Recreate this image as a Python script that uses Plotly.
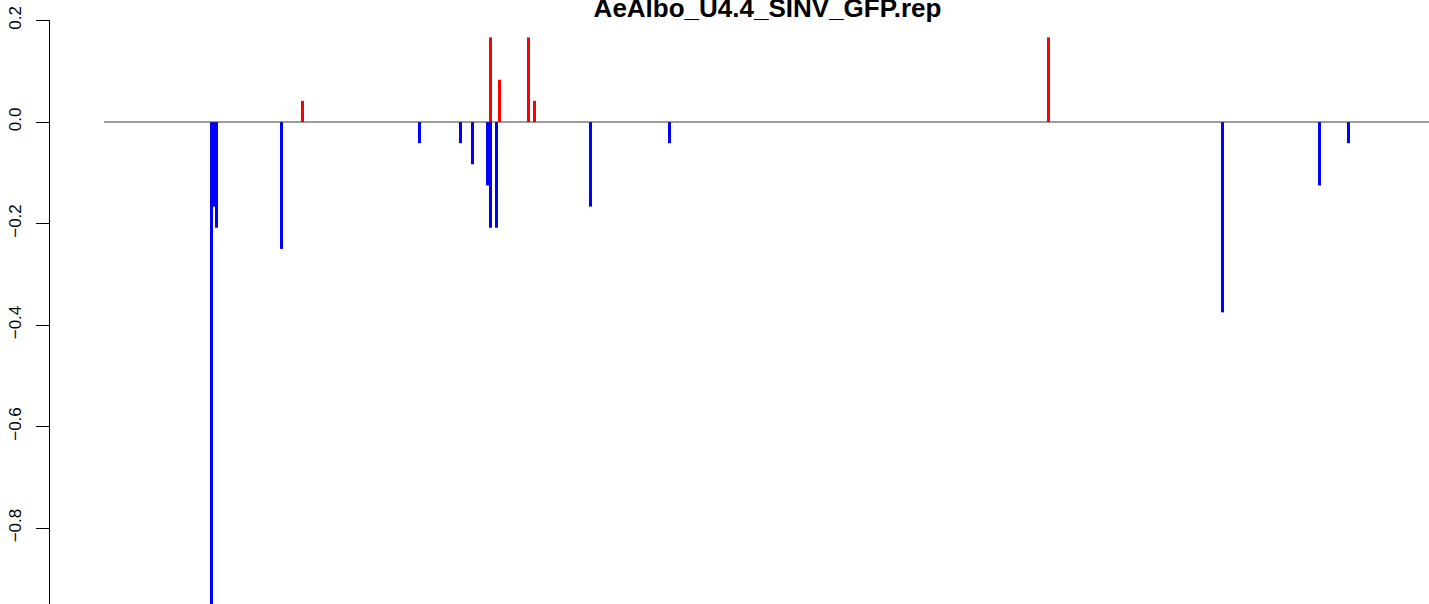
import plotly.graph_objects as go

# ---- data (positions along the sequence, values in fractions) ----
title_text = "AeAlbo_U4.4_SINV_GFP.rep"

neg_pos = [161.5, 164, 166.5, 231.5, 369.5, 410.5, 422.5, 437.5, 440.5, 446.5,
           540.5, 619.5, 1172.5, 1269.5, 1298.5]
neg_val = [-1.0, -0.1667, -0.2083, -0.25, -0.0417, -0.0417, -0.0833, -0.125, -0.2083, -0.2083,
           -0.1667, -0.0417, -0.375, -0.125, -0.0417]

pos_pos = [252.5, 440.5, 449.5, 478.5, 484.5, 998.5]
pos_val = [0.0417, 0.1667, 0.0833, 0.1667, 0.0417, 0.1667]

seq_start = 54
seq_end = 1420

y_ticks = [0.2, 0.0, -0.2, -0.4, -0.6, -0.8, -1.0]
y_tick_labels = ["0.2", "0.0", "\u22120.2", "\u22120.4", "\u22120.6", "\u22120.8", "\u22121.0"]

fig = go.Figure()

# zero reference line
fig.add_trace(go.Scatter(
    x=[seq_start, seq_end], y=[0, 0], mode="lines",
    line=dict(color="#3a3a3a", width=1), hoverinfo="skip", showlegend=False))

fig.add_trace(go.Bar(
    x=neg_pos, y=neg_val, width=3, marker=dict(color="#0000FF", line=dict(width=0)),
    showlegend=False))
fig.add_trace(go.Bar(
    x=pos_pos, y=pos_val, width=3, marker=dict(color="#FF0000", line=dict(width=0)),
    showlegend=False))

fig.update_layout(
    width=1429, height=604,
    template="none",
    paper_bgcolor="white", plot_bgcolor="white",
    barmode="overlay",
    margin=dict(l=50, r=0, t=20, b=0, autoexpand=False),
    title=dict(text="<b>" + title_text + "</b>", x=767.5 / 1429, xref="container", xanchor="center",
               y=1 - 7.5 / 604, yref="container", yanchor="middle",
               font=dict(family="Liberation Sans, Arial, sans-serif", size=26, color="black")),
    xaxis=dict(range=[0, 1379], visible=False, showgrid=False, zeroline=False),
    yaxis=dict(range=[0.2 - 584 / 508, 0.2 + 0.5 / 508], showgrid=False, zeroline=False,
               showline=True, linecolor="black", linewidth=1,
               ticks="outside", ticklen=13, tickwidth=1, tickcolor="black",
               tickvals=y_ticks, ticktext=y_tick_labels, tickangle=-90,
               ticklabelstandoff=8,
               tickfont=dict(family="Liberation Sans, Arial, sans-serif", size=17, color="black")),
)

fig.write_html("out.html", config={"displayModeBar": False},
               post_script="document.body.style.margin='0';document.body.style.overflow='hidden';")
